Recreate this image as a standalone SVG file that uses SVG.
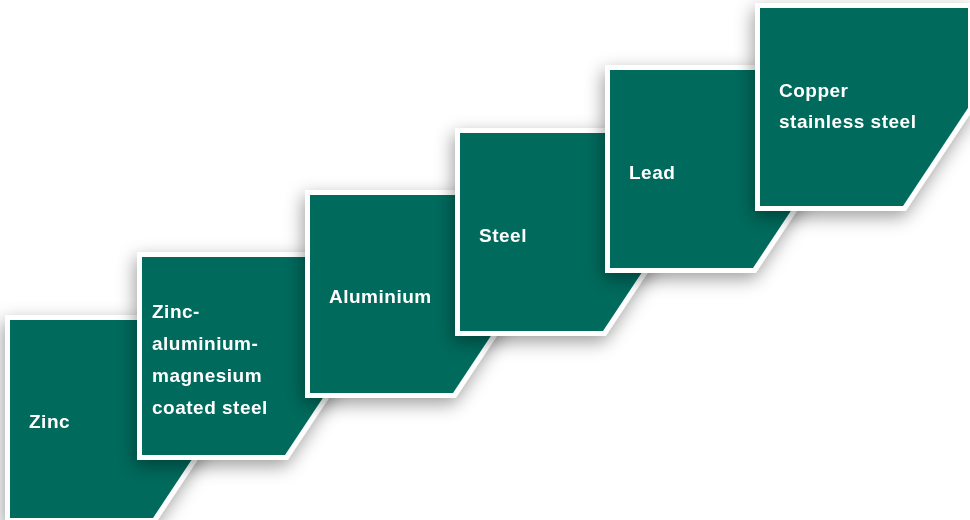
<svg xmlns="http://www.w3.org/2000/svg" width="970" height="520" viewBox="0 0 970 520">
  <defs>
    <filter id="sh" x="-30%" y="-30%" width="160%" height="160%">
      <feDropShadow dx="-2" dy="6" stdDeviation="9" flood-color="#000" flood-opacity="0.38"/>
    </filter>
    <path id="card" d="M0,0 H208 V100 L143,198 H0 Z"/>
  </defs>
  <style>
    .card { fill: #016b5c; stroke: #ffffff; stroke-width: 10; stroke-linejoin: miter; paint-order: stroke; }
    .node { filter: url(#sh); }
    .lbl { font-family: "Liberation Sans", Arial, sans-serif; font-weight: bold; font-size: 19px; fill: #ffffff; letter-spacing: 0.5px; }
  </style>
  <rect width="970" height="520" fill="#ffffff"/>

  <g id="zinc" class="node">
    <use href="#card" class="card" x="10" y="320"/>
    <text class="lbl" x="29" y="428">Zinc</text>
  </g>

  <g id="zinc-aluminium-magnesium" class="node">
    <use href="#card" class="card" x="142" y="257"/>
    <text class="lbl" x="152" y="318">Zinc-</text>
    <text class="lbl" x="152" y="350">aluminium-</text>
    <text class="lbl" x="152" y="382">magnesium</text>
    <text class="lbl" x="152" y="414">coated steel</text>
  </g>

  <g id="aluminium" class="node">
    <use href="#card" class="card" x="310" y="195"/>
    <text class="lbl" x="329" y="303">Aluminium</text>
  </g>

  <g id="steel" class="node">
    <use href="#card" class="card" x="460" y="133"/>
    <text class="lbl" x="479" y="242">Steel</text>
  </g>

  <g id="lead" class="node">
    <use href="#card" class="card" x="610" y="70"/>
    <text class="lbl" x="629" y="179">Lead</text>
  </g>

  <g id="copper" class="node">
    <use href="#card" class="card" x="760" y="8"/>
    <text class="lbl" x="779" y="97">Copper</text>
    <text class="lbl" x="779" y="128">stainless steel</text>
  </g>
</svg>
